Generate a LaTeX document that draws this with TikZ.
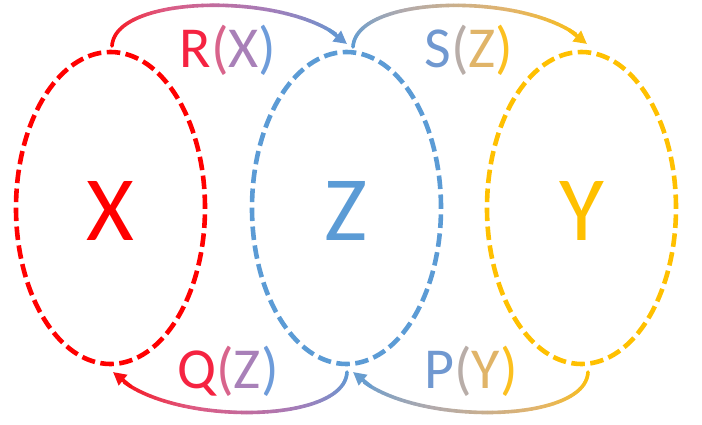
\documentclass[tikz,border=0pt]{standalone}
\usepackage{fontspec}
\setmainfont{Carlito}
\usetikzlibrary{shapes.geometric,arrows.meta,calc}
\definecolor{cred}{HTML}{FF0000}
\definecolor{cblue}{HTML}{5B9BD5}
\definecolor{cgold}{HTML}{FFC000}
\definecolor{cpink}{RGB}{222,90,130}
\definecolor{cpurp}{RGB}{165,125,185}
\definecolor{cgrey}{RGB}{178,170,172}
\definecolor{ctan}{RGB}{226,180,108}
\definecolor{rA}{RGB}{245,35,65}
\definecolor{rB}{RGB}{216,100,140}
\definecolor{rC}{RGB}{168,128,184}
\definecolor{rD}{RGB}{110,156,218}
\definecolor{sA}{RGB}{112,152,208}
\definecolor{sB}{RGB}{184,173,168}
\definecolor{sC}{RGB}{224,180,104}
\definecolor{sD}{RGB}{252,192,32}
% piecewise colour: #1 = t in [0,1], #2..#5 colour stops at 0, 1/3, 2/3, 1
\newcommand\setsegcol[5]{%
  \pgfmathsetmacro\gtv{#1}%
  \ifdim\gtv pt<0.3333pt
    \pgfmathtruncatemacro\gq{100-\gtv*300}\colorlet{segcol}{#2!\gq!#3}%
  \else\ifdim\gtv pt<0.6667pt
    \pgfmathtruncatemacro\gq{100-(\gtv-0.3333)*300}\colorlet{segcol}{#3!\gq!#4}%
  \else
    \pgfmathtruncatemacro\gq{max(0,100-(\gtv-0.6667)*300)}\colorlet{segcol}{#4!\gq!#5}%
  \fi\fi}
% #1 start, #2 first control (relative), #3 second control (relative to end), #4 end,
% #5..#8 colour stops along the path, #9 prefix
\newcommand\gradconn[9]{%
  \foreach \i in {0,...,60} {\path (#1) .. controls +#2 and +#3 .. (#4) coordinate[pos=\i/60] (#9\i);}
  \foreach \i in {0,...,55} {%
    \pgfmathtruncatemacro\j{\i+1}%
    \setsegcol{\i/60}{#5}{#6}{#7}{#8}%
    \draw[connseg, segcol] (#9\i) -- (#9\j);}
  \setsegcol{0.95}{#5}{#6}{#7}{#8}%
  \draw[connseg, segcol, -{Triangle[length=13pt,width=13pt]}] (#954) -- (#960);
}
\begin{document}
\begin{tikzpicture}[x=1pt,y=-1pt,
  setbox/.style={ellipse, minimum width=189pt, minimum height=312pt, inner sep=0pt, outer sep=0pt,
    line width=4.6pt, dash pattern=on 13.5pt off 5.5pt},
  bigletter/.style={anchor=base, inner sep=0pt, font=\fontsize{92pt}{92pt}\selectfont},
  lbl/.style={anchor=base, inner sep=0pt, font=\fontsize{58pt}{58pt}\selectfont},
  connseg/.style={line width=3.6pt, line cap=round}]
\useasboundingbox (0,0) rectangle (702,424);

\node[setbox, draw=cred] (ex) at (110.5,208) {};
\node[setbox, draw=cblue] (ez) at (346.5,208) {};
\node[setbox, draw=cgold] (ey) at (581.5,208) {};

\node[bigletter, text=cred] (lx) at (110,240) {X};
\node[bigletter, text=cblue] (lz) at (346,240) {Z};
\node[bigletter, text=cgold] (ly) at (581.5,240) {Y};

\coordinate (rxs) at ($(ex.north)+(1.5,-6)$);
\coordinate (rxe) at ($(ez.north)+(0.5,-8)$);
\coordinate (szs) at ($(ez.north)+(6.5,-5)$);
\coordinate (sze) at ($(ey.north)+(5.5,-8)$);
\coordinate (qzs) at ($(ez.south)+(0.5,8)$);
\coordinate (qze) at ($(ex.south)+(2.5,8)$);
\coordinate (pys) at ($(ey.south)+(6.5,8)$);
\coordinate (pye) at ($(ez.south)+(6.5,8)$);

\gradconn{rxs}{(3,-54)}{(-47,-52)}{rxe}{cred}{cpink}{cpurp}{cblue}{ra}
\gradconn{szs}{(3,-55)}{(-47,-52)}{sze}{cblue}{cgrey}{ctan}{cgold}{sa}
\gradconn{qzs}{(-2,54)}{(47,54)}{qze}{cblue}{cpurp}{cpink}{cred}{qa}
\gradconn{pys}{(-2,54)}{(47,54)}{pye}{cgold}{ctan}{cgrey}{cblue}{pa}

\node[lbl] (rx) at (228,67) {\textcolor{rA}{R}\textcolor{rB}{(}\textcolor{rC}{X}\textcolor{rD}{)}};
\node[lbl] (sz) at (469,67) {\textcolor{sA}{S}\textcolor{sB}{(}\textcolor{sC}{Z}\textcolor{sD}{)}};
\node[lbl] (qz) at (228,388) {\textcolor{rA}{Q}\textcolor{rB}{(}\textcolor{rC}{Z}\textcolor{rD}{)}};
\node[lbl] (py) at (471,388) {\textcolor{sA}{P}\textcolor{sB}{(}\textcolor{sC}{Y}\textcolor{sD}{)}};
\end{tikzpicture}
\end{document}
